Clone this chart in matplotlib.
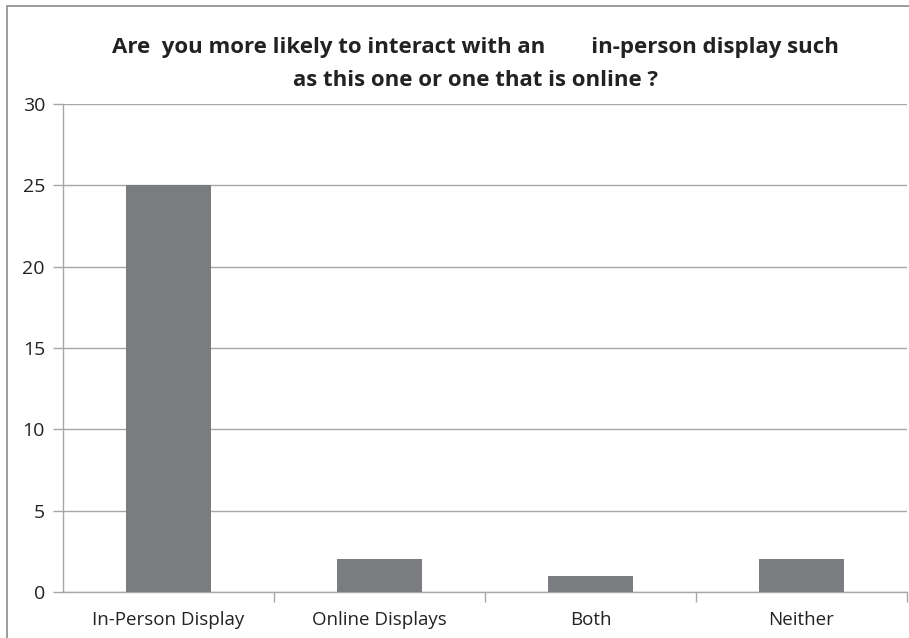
import matplotlib.pyplot as plt
from matplotlib.patches import Rectangle

# survey answers
categories = ["In-Person Display", "Online Displays", "Both", "Neither"]
counts = [25, 2, 1, 2]
y_ticks = [0, 5, 10, 15, 20, 25, 30]

title = ("Are  you more likely to interact with an        in-person display such\n"
         "as this one or one that is online ?")

plt.rcParams["font.family"] = ["Open Sans", "DejaVu Sans"]

fig = plt.figure(figsize=(9.09, 6.38), dpi=100)
ax = fig.add_axes([63 / 909, 1 - 592 / 638, 844 / 909, 488 / 638])

positions = list(range(len(categories)))
ax.bar(positions, counts, width=0.4, color="#7b7c80", zorder=3)

ax.set_xlim(-0.5, len(categories) - 0.5)
ax.set_ylim(0, 30)
ax.set_yticks(y_ticks)
ax.set_yticklabels([str(v) for v in y_ticks], fontsize=14, color="#222222")
ax.yaxis.grid(True, color="#a6a6a6", linewidth=1.0, zorder=0)

# category labels centred, tick marks on the category boundaries
ax.set_xticks(positions)
ax.set_xticklabels(categories, fontsize=13.5, color="#222222")
ax.tick_params(axis="x", length=0, pad=14)
ax.set_xticks([p + 0.5 for p in positions], minor=True)
ax.tick_params(axis="x", which="minor", length=7, color="#a6a6a6", width=1.0)
ax.tick_params(axis="y", length=7, color="#a6a6a6", width=1.0, pad=6)

for side in ["top", "right"]:
    ax.spines[side].set_visible(False)
for side in ["left", "bottom"]:
    ax.spines[side].set_color("#a6a6a6")
    ax.spines[side].set_linewidth(1.0)

fig.text(0.523, 1 - 64 / 638, title, ha="center", va="center", fontsize=16,
         fontweight="bold", color="#222222", linespacing=1.75)

# chart-area frame
fig.patches.append(Rectangle((7 / 909, -0.05), 1.0, 1 - 6 / 638 + 0.05,
                             transform=fig.transFigure, fill=False,
                             edgecolor="#8c8c8c", linewidth=1.2))

fig.savefig("out.png", dpi=100)
